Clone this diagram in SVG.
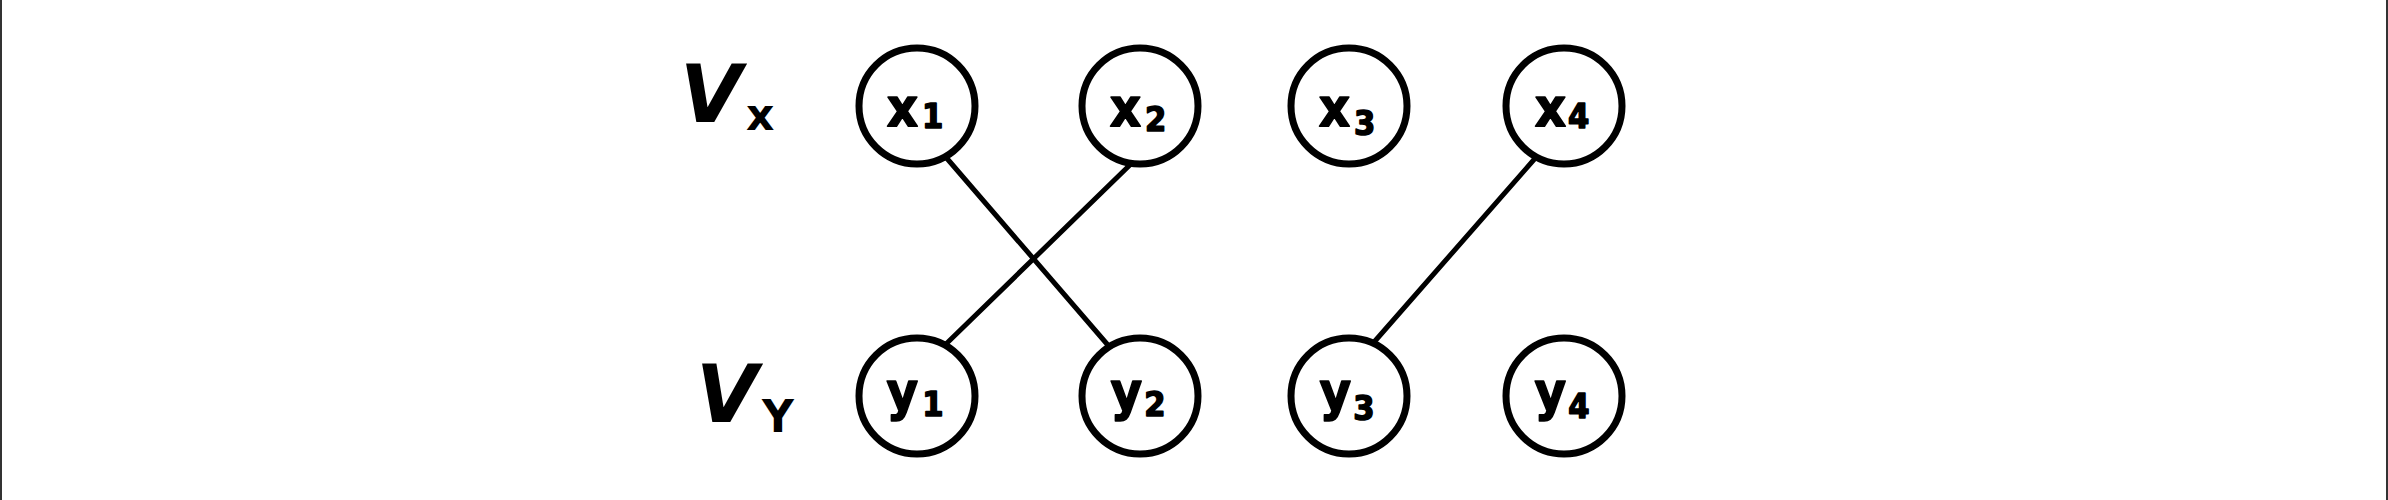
<svg xmlns="http://www.w3.org/2000/svg" width="2388" height="500" viewBox="0 0 2388 500">
<style>
.node{fill:#fff;stroke:#000;stroke-width:7}
.edge{stroke:#000;stroke-width:5;stroke-linecap:round;fill:none}
.lbl{font-family:"DejaVu Sans Condensed","DejaVu Sans",sans-serif;font-weight:bold;font-size:54px;fill:#000;stroke:#000;stroke-width:1.5;stroke-linejoin:round}
.sub{font-size:34px}
.set{font-family:"DejaVu Sans",sans-serif;font-style:italic;font-weight:bold;font-size:80px;fill:#000}
.setsub{font-size:44px;font-style:normal}
.frame{stroke:#333;stroke-width:2}
</style>
<rect width="2388" height="500" fill="#fff"/>
<line class="frame" x1="1" y1="0" x2="1" y2="500"/>
<line class="frame" x1="2387" y1="0" x2="2387" y2="500"/>
<g id="connectors">
<line class="edge" x1="944" y1="155" x2="1107" y2="344"/>
<line class="edge" x1="1135" y1="160" x2="946" y2="344"/>
<line class="edge" x1="1538" y1="155" x2="1375" y2="341"/>
</g>
<g id="label-VX"><text class="set" x="680" y="122">V<tspan class="setsub" dx="4" dy="8">x</tspan></text></g>
<g id="label-VY"><text class="set" x="696" y="422">V<tspan class="setsub" dx="4" dy="10">Y</tspan></text></g>
<g id="x1"><circle class="node" cx="917" cy="106" r="58"/><text class="lbl" x="915" y="126" text-anchor="middle">x<tspan class="sub" dx="4" dy="2">1</tspan></text></g>
<g id="x2"><circle class="node" cx="1140" cy="106" r="58"/><text class="lbl" x="1138" y="126" text-anchor="middle">x<tspan class="sub" dx="4" dy="5">2</tspan></text></g>
<g id="x3"><circle class="node" cx="1349" cy="106" r="58"/><text class="lbl" x="1347" y="126" text-anchor="middle">x<tspan class="sub" dx="4" dy="9">3</tspan></text></g>
<g id="x4"><circle class="node" cx="1564" cy="106" r="58"/><text class="lbl" x="1562" y="126" text-anchor="middle">x<tspan class="sub" dx="2" dy="2">4</tspan></text></g>
<g id="y1"><circle class="node" cx="917" cy="396" r="58"/><text class="lbl" x="915" y="410" text-anchor="middle">y<tspan class="sub" dx="4" dy="6">1</tspan></text></g>
<g id="y2"><circle class="node" cx="1140" cy="396" r="58"/><text class="lbl" x="1138" y="410" text-anchor="middle">y<tspan class="sub" dx="2" dy="6">2</tspan></text></g>
<g id="y3"><circle class="node" cx="1349" cy="396" r="58"/><text class="lbl" x="1347" y="410" text-anchor="middle">y<tspan class="sub" dx="2" dy="10">3</tspan></text></g>
<g id="y4"><circle class="node" cx="1564" cy="396" r="58"/><text class="lbl" x="1562" y="410" text-anchor="middle">y<tspan class="sub" dx="2" dy="8">4</tspan></text></g>
</svg>
